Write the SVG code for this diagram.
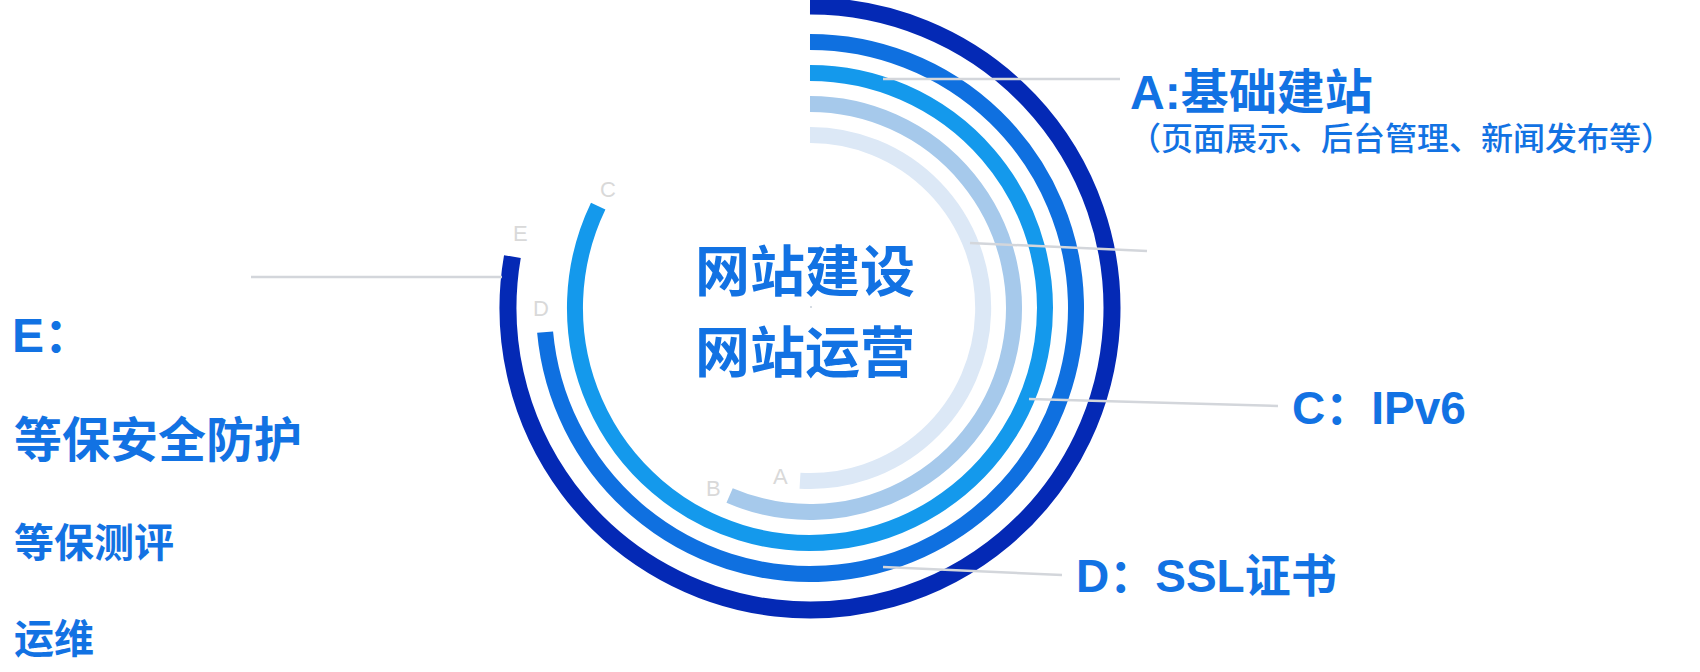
<svg xmlns="http://www.w3.org/2000/svg" width="1700" height="672" viewBox="0 0 1700 672">
<style>
.ring{fill:none;stroke-linecap:butt}
.conn{stroke:#d3d6db;stroke-width:2.5;fill:none}
.t{font-family:"Liberation Sans","Noto Sans CJK SC",sans-serif;fill:#1272e3}
.b{font-weight:bold}
.m{font-weight:500}
.tag{font-family:"Liberation Sans",sans-serif;font-size:22px;fill:#d9d9d9}
.cjk{font-family:"Noto Sans CJK SC","Liberation Sans",sans-serif;fill:#1272e3}
</style>
<rect width="1700" height="672" fill="#ffffff"/>
<g id="rings">
<g id="ring-E"><path class="ring" stroke="#0429b5" stroke-width="17" d="M810 6 A302 302 0 1 1 512.4 256.6"/></g>
<g id="ring-D"><path class="ring" stroke="#0f70e0" stroke-width="16" d="M810 42 A266 266 0 1 1 545.1 332.1"/></g>
<g id="ring-C"><path class="ring" stroke="#1499ec" stroke-width="16" d="M810 73 A235 235 0 1 1 598.2 206.1"/></g>
<g id="ring-B"><path class="ring" stroke="#a6c9eb" stroke-width="16" d="M810 104 A204 204 0 1 1 729.6 495.5"/></g>
<g id="ring-A"><path class="ring" stroke="#dce8f6" stroke-width="16" d="M810 135 A173 173 0 1 1 800 480.7"/></g>
</g>
<g id="ring-tags">
<text class="tag" x="773" y="484">A</text>
<text class="tag" x="706" y="496">B</text>
<text class="tag" x="600" y="197">C</text>
<text class="tag" x="533" y="316">D</text>
<text class="tag" x="513" y="241">E</text>
</g>
<g id="connectors">
<line class="conn" x1="883" y1="79" x2="1120" y2="79"/>
<line class="conn" x1="970" y1="243" x2="1147" y2="251"/>
<line class="conn" x1="1029" y1="399" x2="1278" y2="406"/>
<line class="conn" x1="883" y1="567" x2="1062" y2="575"/>
<line class="conn" x1="251" y1="277" x2="502" y2="277"/>
</g>
<g id="center">
<circle cx="811" cy="307" r="1" fill="#c8d0da"/>
<text class="cjk b" x="805" y="291" font-size="55" text-anchor="middle">网站建设</text>
<text class="cjk b" x="805" y="372" font-size="55" text-anchor="middle">网站运营</text>
</g>
<g id="label-A">
<text class="t b" x="1130" y="109" font-size="48">A:基础建站</text>
<text class="t m" x="1129" y="150" font-size="32">（页面展示、后台管理、新闻发布等）</text>
</g>
<g id="label-C">
<text class="t b" x="1292" y="424" font-size="46">C：IPv6</text>
</g>
<g id="label-D">
<text class="t b" x="1076" y="592" font-size="46">D：SSL证书</text>
</g>
<g id="label-E">
<text class="t b" x="12" y="352" font-size="48">E：</text>
<text class="t b" x="14" y="457" font-size="48">等保安全防护</text>
<text class="t b" x="14" y="557" font-size="40">等保测评</text>
<text class="t b" x="14" y="653" font-size="40">运维</text>
</g>
</svg>
